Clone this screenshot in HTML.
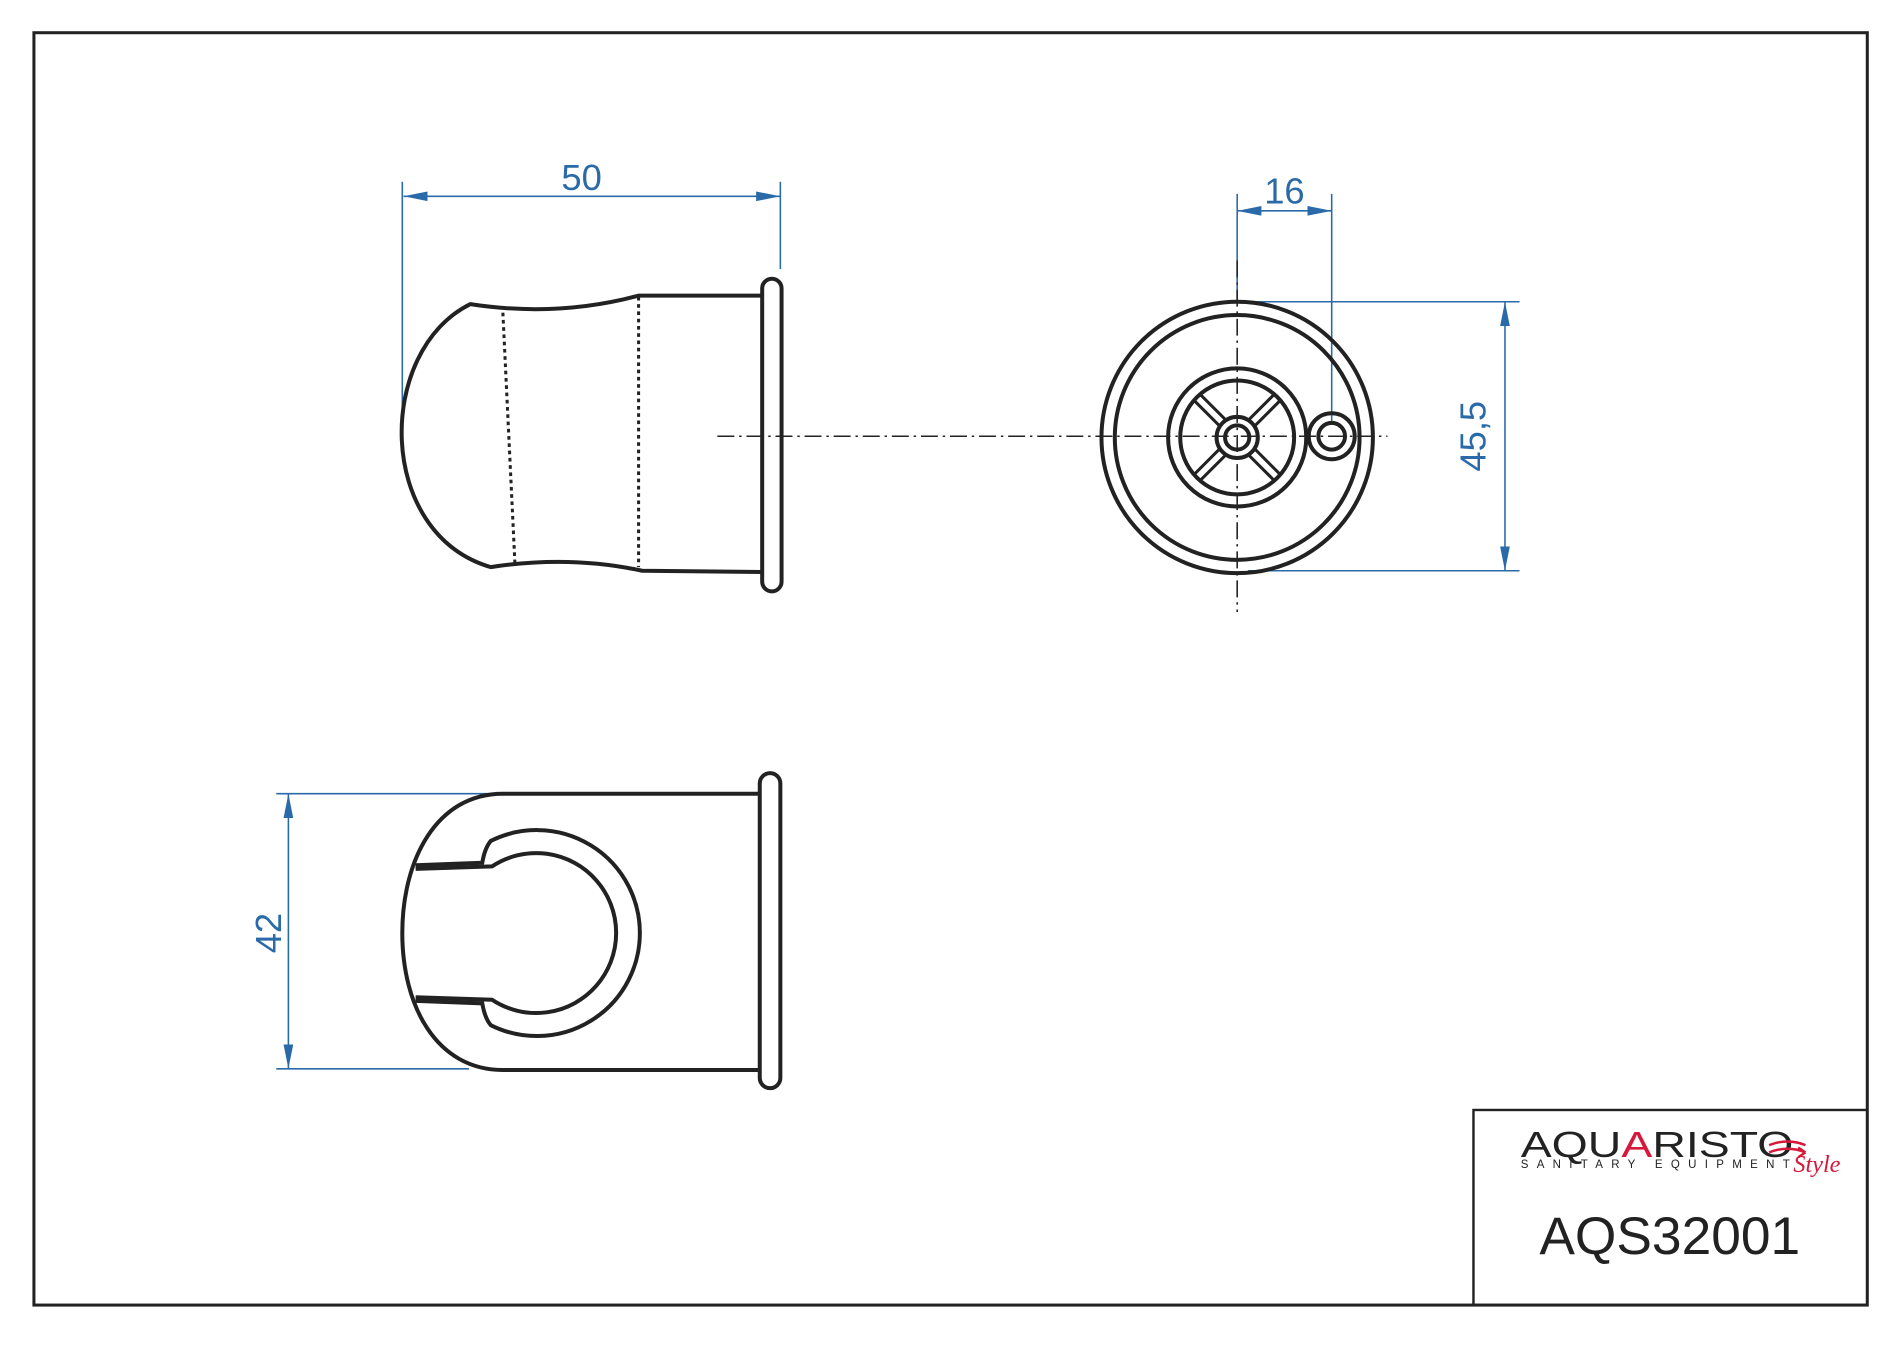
<!DOCTYPE html>
<html><head><meta charset="utf-8"><style>html,body{margin:0;padding:0;background:#fff}svg{display:block}</style></head>
<body>
<svg width="1900" height="1347" viewBox="0 0 1568 1111.6" preserveAspectRatio="none" xmlns="http://www.w3.org/2000/svg">
<defs>
<marker id="a" viewBox="0 0 20 8" refX="20" refY="4" markerWidth="20" markerHeight="8" markerUnits="userSpaceOnUse" orient="auto-start-reverse"><path d="M0,0 L20,4 L0,8 z" fill="#2a6aa8"/></marker>
</defs>
<rect x="28" y="27" width="1513" height="1050" fill="none" stroke="#222" stroke-width="2.5"/>
<rect x="1216" y="916" width="325" height="161" fill="none" stroke="#222" stroke-width="2"/>
<text x="1255" y="955" font-family="Liberation Sans, sans-serif" font-size="30" fill="#222" textLength="225" lengthAdjust="spacingAndGlyphs">AQU<tspan fill="#d6183a">A</tspan>RISTO</text>
<text x="1255" y="964" font-family="Liberation Sans, sans-serif" font-size="9.5" fill="#222" textLength="222" lengthAdjust="spacing">SANITARY EQUIPMENT</text>
<text x="1480" y="967" font-family="Liberation Serif, serif" font-style="italic" font-size="20" fill="#d6183a">Style</text>
<path d="M1460,945 q15,-6 30,0 M1460,951 q15,-6 30,0 l-6,-4 m6,4 l-6,4" stroke="#d6183a" stroke-width="2" fill="none"/>
<text x="1378" y="1035" text-anchor="middle" font-family="Liberation Sans, sans-serif" font-size="44" fill="#222">AQS32001</text>

<g stroke="#2a6aa8" stroke-width="1.3" fill="none">
<line x1="332" y1="150" x2="332" y2="345"/><line x1="644" y1="150" x2="644" y2="222"/>
<line x1="333" y1="162" x2="644" y2="162" marker-start="url(#a)" marker-end="url(#a)"/>
<line x1="1021" y1="160" x2="1021" y2="250"/><line x1="1099" y1="160" x2="1099" y2="350"/>
<line x1="1021" y1="174" x2="1099" y2="174" marker-start="url(#a)" marker-end="url(#a)"/>
<line x1="1030" y1="249" x2="1254" y2="249"/><line x1="1030" y1="471" x2="1254" y2="471"/>
<line x1="1242" y1="249" x2="1242" y2="471" marker-start="url(#a)" marker-end="url(#a)"/>
<line x1="228" y1="655" x2="410" y2="655"/><line x1="228" y1="882" x2="387" y2="882"/>
<line x1="238" y1="655" x2="238" y2="882" marker-start="url(#a)" marker-end="url(#a)"/>
</g>
<g font-family="Liberation Sans, sans-serif" font-size="30" fill="#2a6aa8" text-anchor="middle">
<text x="480" y="157">50</text>
<text x="1060" y="168">16</text>
<text transform="translate(1226,360) rotate(-90)">45,5</text>
<text transform="translate(232,770) rotate(-90)">42</text>
</g>

<g stroke="#222" stroke-width="1.3" fill="none" stroke-dasharray="14,4,2,4">
<line x1="592" y1="360" x2="1145" y2="360"/>
<line x1="1021" y1="215" x2="1021" y2="505"/>
</g>

<g stroke="#222" stroke-width="3.3" fill="none">
<rect x="629" y="230" width="16" height="258" rx="8"/>
<path d="M629,244 L527,244 Q460,262 388,251 C310,290 310,440 405,468 Q470,458 530,471 L629,472"/>
<path d="M415,258 L425,466 M527,245 L527,468" stroke-dasharray="3,3" stroke-width="2.5"/>
<circle cx="1021" cy="361" r="112"/><circle cx="1021" cy="361" r="101"/>
<circle cx="1021" cy="361" r="57"/><circle cx="1021" cy="361" r="47"/>
<circle cx="1021" cy="361" r="17"/><circle cx="1021" cy="361" r="10"/>
<circle cx="1099" cy="360" r="19"/><circle cx="1099" cy="360" r="11"/>
<g transform="translate(1021,361)">
<path d="M14,-9 L36,-31 M9,-14 L31,-36 M14,9 L36,31 M9,14 L31,36 M-14,-9 L-36,-31 M-9,-14 L-31,-36 M-14,9 L-36,31 M-9,14 L-31,36" stroke-width="2.5"/>
</g>
<rect x="627" y="638" width="17" height="260" rx="8.5"/>
<path d="M627,655 L415,655 C360,655 332,710 332,770 C332,830 360,883 415,883 L627,883"/>
<path d="M343,714 L398,712 Q400,700 405,694 A85,85 0 1 1 405,846 Q400,840 398,828 L343,826"/>
<path d="M343,717 L406,715 A66,66 0 1 1 406,825 L343,823"/>
</g>
</svg>
</body></html>
